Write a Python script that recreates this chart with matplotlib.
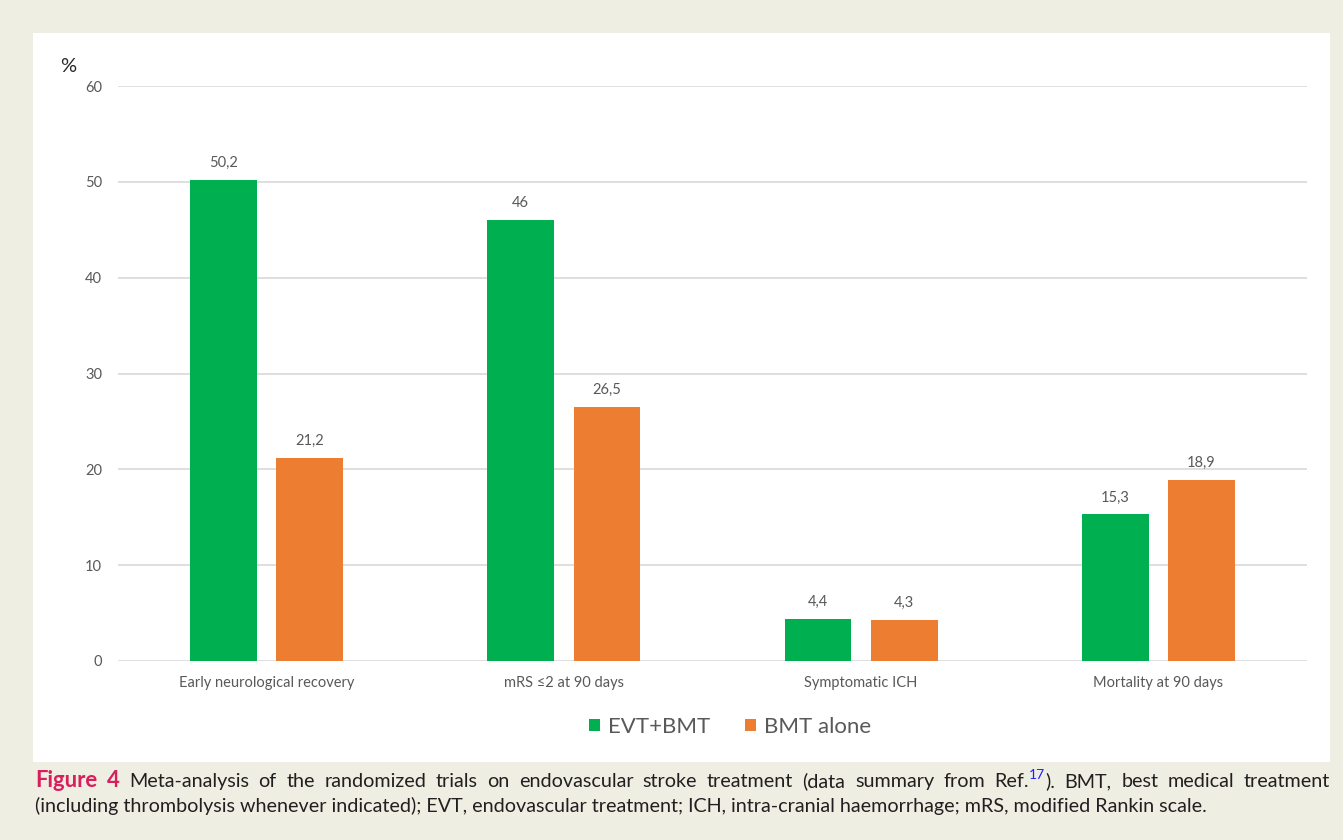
import matplotlib
matplotlib.use("Agg")
import matplotlib.pyplot as plt
from matplotlib.patches import Rectangle
import numpy as np

# ---- data ----
categories = ["Early neurological recovery", "mRS \u22642 at 90 days", "Symptomatic ICH", "Mortality at 90 days"]
evt_bmt = [50.2, 46.0, 4.4, 15.3]
bmt_alone = [21.2, 26.5, 4.3, 18.9]
series_names = ["EVT+BMT", "BMT alone"]
yticks = [0, 10, 20, 30, 40, 50, 60]

GREEN = "#00B050"
ORANGE = "#ED7D31"
GRAY = "#595959"
GRID = "#D9D9D9"
BEIGE = "#EFEEE3"
FONT = ["Lato", "DejaVu Sans"]

W, H = 1343, 840
fig = plt.figure(figsize=(W / 100, H / 100), dpi=100)
fig.patch.set_facecolor(BEIGE)

# white panel
fig.patches.append(Rectangle((33 / W, 1 - 762 / H), (1330 - 33) / W, (762 - 33) / H,
                             transform=fig.transFigure, facecolor="white", edgecolor="none", zorder=-5))

ax = fig.add_axes([118 / W, 1 - 661 / H, (1307 - 118) / W, (661 - 86) / H])
ax.set_zorder(2)
ax.set_facecolor("none")
x = np.arange(len(categories))
bw = 0.225
off = 0.145
b1 = ax.bar(x - off, evt_bmt, bw, color=GREEN, label=series_names[0], zorder=3)
b2 = ax.bar(x + off, bmt_alone, bw, color=ORANGE, label=series_names[1], zorder=3)

fmt = lambda v: f"{v:g}".replace(".", ",")
for bars, vals in ((b1, evt_bmt), (b2, bmt_alone)):
    ax.bar_label(bars, labels=[fmt(v) for v in vals], padding=7, color=GRAY,
                 fontsize=10.5, family=FONT)

ax.set_xlim(-0.5, len(categories) - 0.5)
ax.set_ylim(0, 60)
ax.set_yticks(yticks)
ax.set_xticks(x)
ax.set_xticklabels(categories)
ax.tick_params(axis="both", length=0, colors=GRAY, labelsize=10.5)
ax.tick_params(axis="y", pad=11.5)
ax.tick_params(axis="x", pad=10.5)
for lab in ax.get_xticklabels() + ax.get_yticklabels():
    lab.set_family(FONT)
ax.grid(axis="y", color=GRID, linewidth=1.2)
ax.set_axisbelow(True)
for s in ax.spines.values():
    s.set_visible(False)

fig.text(68 / W, 1 - 67 / H, "%", ha="center", va="center", fontsize=14.5, color="#262626", family=FONT)

leg = fig.legend(handles=[b1, b2], labels=series_names, loc="center",
                 bbox_to_anchor=(730 / W, 1 - 727 / H), ncol=2, frameon=False,
                 handlelength=0.5, handleheight=0.5, handletextpad=0.35,
                 columnspacing=1.6, labelcolor=GRAY, prop={"family": FONT, "size": 16})

# ---- caption ----
CRIMSON = "#D81E5B"
TXT = "#231F20"
BLUE = "#2020FF"
fig.canvas.draw()
renderer = fig.canvas.get_renderer()

def width_of(s, size, weight="normal"):
    t = fig.text(0, 0, s, fontsize=size, family=FONT, weight=weight)
    w = t.get_window_extent(renderer).width
    t.remove()
    return w

line2 = "(including thrombolysis whenever indicated); EVT, endovascular treatment; ICH, intra-cranial haemorrhage; mRS, modified Rankin scale."
base = 14.0
nat = width_of(line2, base)
size = base * (1215 - 35) / nat

# line 1 tokens: list of parts (text, weight, color, is_sup)
words1 = ["Meta-analysis", "of", "the", "randomized", "trials", "on", "endovascular", "stroke",
          "treatment", "(data", "summary", "from"]
tokens = [[("Figure", "bold", CRIMSON, False)], [("4", "bold", CRIMSON, False)]]
tokens += [[(w, "normal", TXT, False)] for w in words1]
tokens += [[("Ref.", "normal", TXT, False), ("17", "normal", BLUE, True), (").", "normal", TXT, False)]]
tokens += [[(w, "normal", TXT, False)] for w in ["BMT,", "best", "medical", "treatment"]]

bold_scale = 1.12
sup_size = size * 0.7
def part_size(p):
    if p[3]:
        return sup_size
    return size * (bold_scale if p[1] == "bold" else 1.0)

def part_w(p):
    return width_of(p[0], part_size(p), p[1])

tok_w = [sum(part_w(p) for p in tok) for tok in tokens]
x0, x1 = 35, 1330
gap = (x1 - x0 - sum(tok_w)) / (len(tokens) - 1)
base1 = 1 - 787 / H
xc = x0
for tok, tw in zip(tokens, tok_w):
    xp = xc
    for p in tok:
        yy = base1 + (8 / H if p[3] else 0)
        fig.text(xp / W, yy, p[0], fontsize=part_size(p), family=FONT, weight=p[1], color=p[2],
                 ha="left", va="baseline")
        xp += part_w(p)
    xc += tw + gap

fig.text(35 / W, 1 - 812 / H, line2, fontsize=size, family=FONT, color=TXT, ha="left", va="baseline")

fig.savefig("out.png", dpi=100, facecolor=fig.get_facecolor())
